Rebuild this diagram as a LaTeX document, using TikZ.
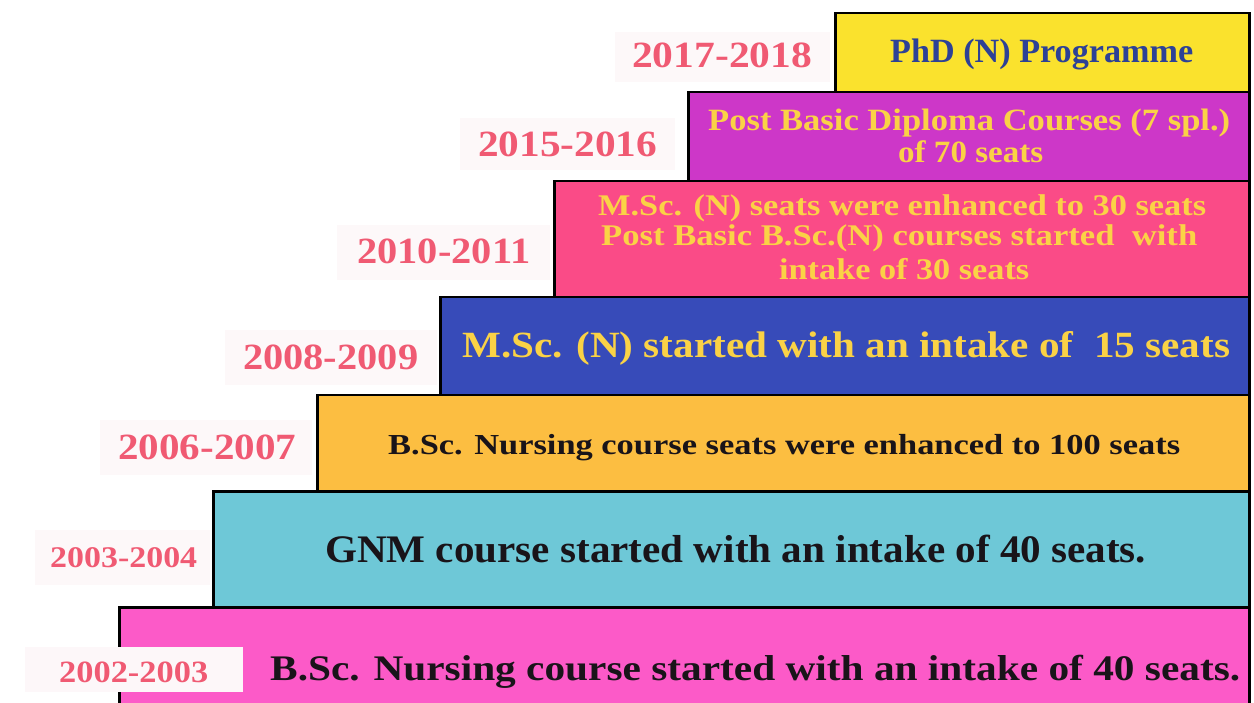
\documentclass[tikz,border=0pt]{standalone}
\usepackage{fontspec}
\setmainfont{Liberation Serif}
\usepackage{graphicx}
\definecolor{yearc}{RGB}{240,90,115}
\definecolor{yearbg}{RGB}{253,248,249}
\definecolor{cyel}{RGB}{250,226,45}
\definecolor{cmag}{RGB}{205,55,200}
\definecolor{cpkr}{RGB}{250,75,135}
\definecolor{cblu}{RGB}{55,75,185}
\definecolor{cora}{RGB}{252,190,65}
\definecolor{ccya}{RGB}{110,200,215}
\definecolor{cpnk}{RGB}{252,90,200}
\definecolor{tblue}{RGB}{45,65,150}
\definecolor{tyel}{RGB}{250,210,70}
\definecolor{tdark}{RGB}{25,20,25}
\newcommand{\fw}[3]{\fontsize{#1}{#1}\selectfont\bfseries\resizebox{#2pt}{\height}{#3}}
\begin{document}
\begin{tikzpicture}[x=1pt,y=-1pt,
  stair/.style={draw=black,line width=2.5pt,inner sep=0pt,anchor=north west},
  yearbox/.style={fill=yearbg,draw=none,inner sep=0pt,anchor=north west},
  yeartext/.style={text=yearc,inner sep=0pt,anchor=base west},
  linetext/.style={inner sep=0pt,anchor=base west}]
\useasboundingbox (0,0) rectangle (1254,703);
\clip (0,0) rectangle (1254,703);
% faint label backgrounds
\node[yearbox,minimum width=215pt,minimum height=50pt] (b1) at (615,32) {};
\node[yearbox,minimum width=215pt,minimum height=52pt] (b2) at (460,118) {};
\node[yearbox,minimum width=213pt,minimum height=55pt] (b3) at (337,225) {};
\node[yearbox,minimum width=212pt,minimum height=55pt] (b4) at (225,330) {};
\node[yearbox,minimum width=212pt,minimum height=55pt] (b5) at (100,420) {};
\node[yearbox,minimum width=175pt,minimum height=55pt] (b6) at (35,530) {};
% stair boxes (bottom first)
\node[stair,fill=cpnk,minimum width=1130pt,minimum height=120pt] (s7) at (118,606) {};
\node[stair,fill=ccya,minimum width=1036pt,minimum height=116pt] (s6) at (212,490) {};
\node[stair,fill=cora,minimum width=932pt,minimum height=96pt] (s5) at (316,394) {};
\node[stair,fill=cblu,minimum width=809pt,minimum height=98pt] (s4) at (439,296) {};
\node[stair,fill=cpkr,minimum width=695pt,minimum height=116pt] (s3) at (553,180) {};
\node[stair,fill=cmag,minimum width=561pt,minimum height=89pt] (s2) at (687,91) {};
\node[stair,fill=cyel,minimum width=414pt,minimum height=79pt] (s1) at (834,12) {};
\node[yearbox,fill={rgb,255:red,253;green,247;blue,249},minimum width=218pt,minimum height=45pt] (b7) at (25,647) {};
% box texts
\node[linetext,text=tblue] (t1) at (890,63) {\fw{34}{303}{PhD (N) Programme}};
\node[linetext,text=tyel] (t2a) at (708,131) {\fw{31}{522}{Post Basic Diploma Courses (7 spl.)}};
\node[linetext,text=tyel] (t2b) at (898,163) {\fw{31}{145}{of 70 seats}};
\node[linetext,text=tyel] (t3a) at (598,216) {\fw{30}{608}{M.Sc. (N) seats were enhanced to 30 seats}};
\node[linetext,text=tyel] (t3b) at (601,246) {\fw{30}{596}{Post Basic B.Sc.(N) courses started\ \ with}};
\node[linetext,text=tyel] (t3c) at (779,280) {\fw{30}{250}{intake of 30 seats}};
\node[linetext,text=tyel] (t4) at (462,358) {\fw{37}{768}{M.Sc. (N) started with an intake of\ \ 15 seats}};
\node[linetext,text=tdark] (t5) at (388,455) {\fw{29}{792}{B.Sc. Nursing course seats were enhanced to 100 seats}};
\node[linetext,text=tdark] (t6) at (325,562) {\fw{39}{821}{GNM course started with an intake of 40 seats.}};
\node[linetext,text=tdark] (t7) at (270,680) {\fw{36}{970}{B.Sc. Nursing course started with an intake of 40 seats.}};
% years
\node[yeartext] (y1) at (632,68) {\fw{37}{180}{2017-2018}};
\node[yeartext] (y2) at (478,157) {\fw{37}{179}{2015-2016}};
\node[yeartext] (y3) at (357,264) {\fw{37}{173}{2010-2011}};
\node[yeartext] (y4) at (243,370) {\fw{37}{175}{2008-2009}};
\node[yeartext] (y5) at (118,460) {\fw{37}{178}{2006-2007}};
\node[yeartext] (y6) at (50,567) {\fw{30}{147}{2003-2004}};
\node[yeartext] (y7) at (59,682) {\fw{31}{149}{2002-2003}};
\end{tikzpicture}
\end{document}
